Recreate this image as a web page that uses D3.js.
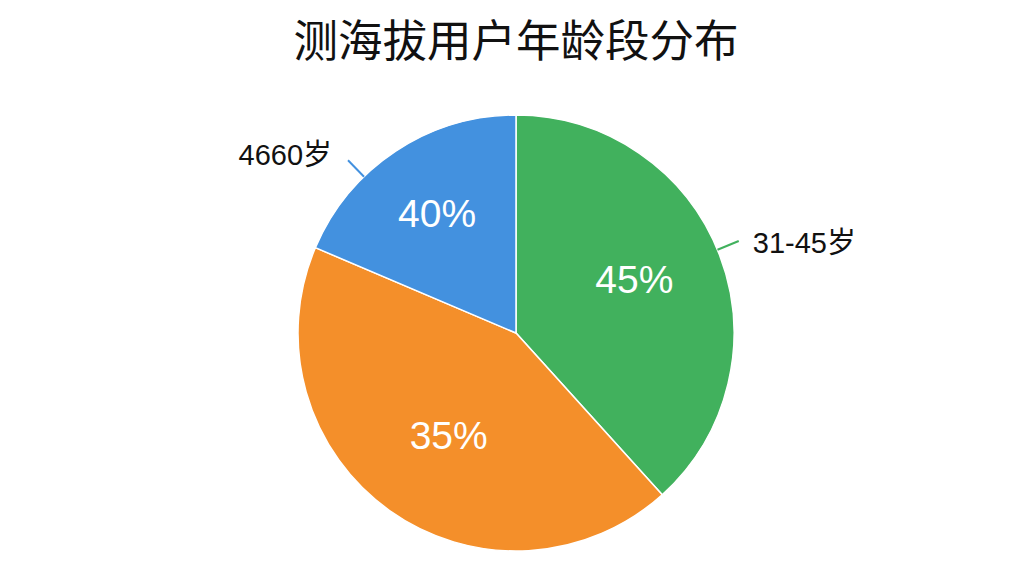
<!DOCTYPE html>
<html><head><meta charset="utf-8">
<script src="https://cdn.jsdelivr.net/npm/d3@7"></script>
<style>
html,body{margin:0;padding:0;background:#fff;}
svg{display:block;}
</style>
</head><body>
<svg id="chart" width="1024" height="576"></svg>
<script>
// ---- data ----
const title = "测海拔用户年龄段分布";
const categories = ["31-45岁", "其他", "4660岁"];
const sliceShares = [38.3, 43.1, 18.6];          // slice sizes
const percentLabels = ["45%", "35%", "40%"];     // labels printed on the slices
const calloutLabels = ["31-45岁", null, "4660岁"]; // outer labels (orange has none)
const colors = ["#41B15D", "#F48F2A", "#4391DF"];

// ---- layout ----
const svg = d3.select("#chart");
const W = 1024, H = 576;
const cx = 516, cy = 333, R = 218;
const fontLatin = "'Liberation Sans', Arial, 'Noto Sans CJK SC', sans-serif";

svg.append("text")
  .attr("x", W / 2 + 4).attr("y", 37)
  .attr("text-anchor", "middle").attr("dominant-baseline", "central")
  .style("font-family", "'Noto Sans CJK SC', sans-serif")
  .style("font-size", "44.5px").style("font-weight", 400)
  .style("fill", "#111")
  .text(title);

const data = categories.map((c, i) => ({
  cat: c, value: sliceShares[i], pct: percentLabels[i],
  callout: calloutLabels[i], color: colors[i]
}));

const pie = d3.pie().sort(null).value(d => d.value);
const arcs = pie(data);
const arc = d3.arc().innerRadius(0).outerRadius(R);
const labelRadius = [130, 123, 143];
const labelShift = [-0.06, -0.04, 0];

const g = svg.append("g").attr("transform", `translate(${cx},${cy})`);

g.selectAll("path.slice").data(arcs).enter().append("path")
  .attr("class", "slice")
  .attr("d", arc)
  .attr("fill", d => d.data.color)
  .attr("stroke", "#fff").attr("stroke-width", 1.5);

g.selectAll("text.pct").data(arcs).enter().append("text")
  .attr("class", "pct")
  .attr("transform", d => {
    const a = (d.startAngle + d.endAngle) / 2 + labelShift[d.index];
    const r = labelRadius[d.index];
    return `translate(${Math.sin(a) * r},${-Math.cos(a) * r})`;
  })
  .attr("text-anchor", "middle").attr("dominant-baseline", "central")
  .style("font-family", fontLatin).style("font-size", "39px")
  .style("fill", "#fff")
  .text(d => d.data.pct);

// callouts: position within the slice (fraction of its span) where the leader sits
const calloutFrac = [0.49, 0, 0.34];
const callArcs = arcs.filter(d => d.data.callout);
callArcs.forEach(d => {
  const i = d.index;
  const a = d.startAngle + (d.endAngle - d.startAngle) * calloutFrac[i];
  const p = (r) => [Math.sin(a) * r, -Math.cos(a) * r];
  const p1 = p(R), p2 = p(R + 23);
  g.append("line")
    .attr("x1", p1[0]).attr("y1", p1[1]).attr("x2", p2[0]).attr("y2", p2[1])
    .attr("stroke", d.data.color).attr("stroke-width", 2);
  const right = Math.sin(a) > 0;
  g.append("text")
    .attr("x", p2[0] + (right ? 14 : -16)).attr("y", p2[1] + (right ? 2 : -5))
    .attr("text-anchor", right ? "start" : "end")
    .attr("dominant-baseline", "central")
    .style("font-family", fontLatin).style("font-size", "29px")
    .style("fill", "#111")
    .text(d.data.callout);
});
</script>
</body></html>
